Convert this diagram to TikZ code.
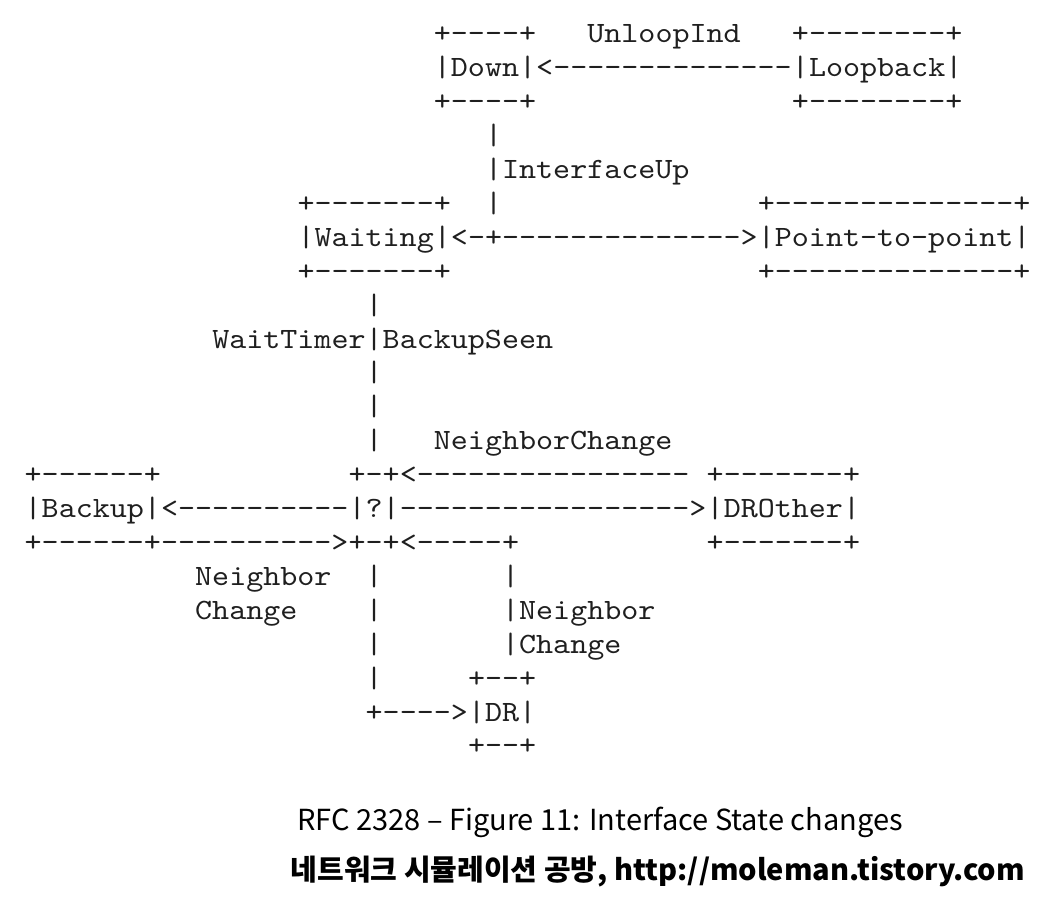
\documentclass[tikz,border=0pt]{standalone}
\usepackage{fontspec}
\newfontfamily\ascfont{lmmono10-regular.otf}[FakeStretch=1.1]
\newfontfamily\capfont{Noto Sans CJK KR}
\begin{document}
\begin{tikzpicture}[x=17.05pt,y=-33.9pt,
  asc/.style={font=\ascfont\fontsize{29.5}{34}\selectfont,inner sep=0pt,anchor=base west,text=black!88},
  captext/.style={font=\capfont\fontsize{29}{34}\selectfont,inner sep=0pt,text=black}]
  \useasboundingbox (-1.437,-0.268) rectangle (60.38,26.46);
  % Down / Loopback
  \node[asc] (downtop) at (24,1) {+----+};
  \node[asc] (unloop) at (33,1) {UnloopInd};
  \node[asc] (looptop) at (45,1) {+--------+};
  \node[asc] (down) at (24,2) {|Down|};
  \node[asc] (unlooparr) at (30,2) {<--------------};
  \node[asc] (loopback) at (45,2) {|Loopback|};
  \node[asc] (downbot) at (24,3) {+----+};
  \node[asc] (loopbot) at (45,3) {+--------+};
  \node[asc] (upbar) at (27,4) {|};
  \node[asc] (ifup) at (27,5) {|InterfaceUp};
  % Waiting / Point-to-point
  \node[asc] (waittop) at (16,6) {+-------+};
  \node[asc] (upbar2) at (27,6) {|};
  \node[asc] (ptptop) at (43,6) {+--------------+};
  \node[asc] (waiting) at (16,7) {|Waiting|};
  \node[asc] (uparr) at (25,7) {<-+-------------->};
  \node[asc] (ptp) at (43,7) {|Point-to-point|};
  \node[asc] (waitbot) at (16,8) {+-------+};
  \node[asc] (ptpbot) at (43,8) {+--------------+};
  \node[asc] (wbar9) at (20,9) {|};
  \node[asc] (waittimer) at (11,10) {WaitTimer};
  \node[asc] (backupseen) at (20,10) {|BackupSeen};
  \foreach \r in {11,12,13}
    \node[asc] (wbar\r) at (20,\r) {|};
  \node[asc] (nbrchg) at (24,13) {NeighborChange};
  % Backup / ? / DROther
  \node[asc] (backuptop) at (0,14) {+------+};
  \node[asc] (qtop) at (19,14) {+-+<----------------};
  \node[asc] (drothertop) at (40,14) {+-------+};
  \node[asc] (backup) at (0,15) {|Backup|};
  \node[asc] (tobackup) at (8,15) {<----------};
  \node[asc] (q) at (19,15) {|?|};
  \node[asc] (todrother) at (22,15) {----------------->};
  \node[asc] (drother) at (40,15) {|DROther|};
  \node[asc] (backupbot) at (0,16) {+------+};
  \node[asc] (fromback) at (8,16) {---------->};
  \node[asc] (qbot) at (19,16) {+-+};
  \node[asc] (fromdr) at (22,16) {<-----+};
  \node[asc] (drotherbot) at (40,16) {+-------+};
  % DR
  \node[asc] (nbr1) at (10,17) {Neighbor};
  \node[asc] (chg1) at (10,18) {Change};
  \foreach \r in {17,18,19,20}
    \node[asc] (lbar\r) at (20,\r) {|};
  \node[asc] (rbar17) at (28,17) {|};
  \node[asc] (nbr2) at (28,18) {|Neighbor};
  \node[asc] (chg2) at (28,19) {|Change};
  \node[asc] (drtop) at (26,20) {+--+};
  \node[asc] (todr) at (20,21) {+---->};
  \node[asc] (dr) at (26,21) {|DR|};
  \node[asc] (drbot) at (26,22) {+--+};
  % caption
  \node[captext] (title) at (33.75,23.98) {RFC 2328 – Figure 11: Interface State changes};
  \node[captext,font=\capfont\bfseries\fontsize{29}{34}\selectfont] (source) at (37.15,25.45) {네트워크 시뮬레이션 공방, http://moleman.tistory.com};
\end{tikzpicture}
\end{document}
